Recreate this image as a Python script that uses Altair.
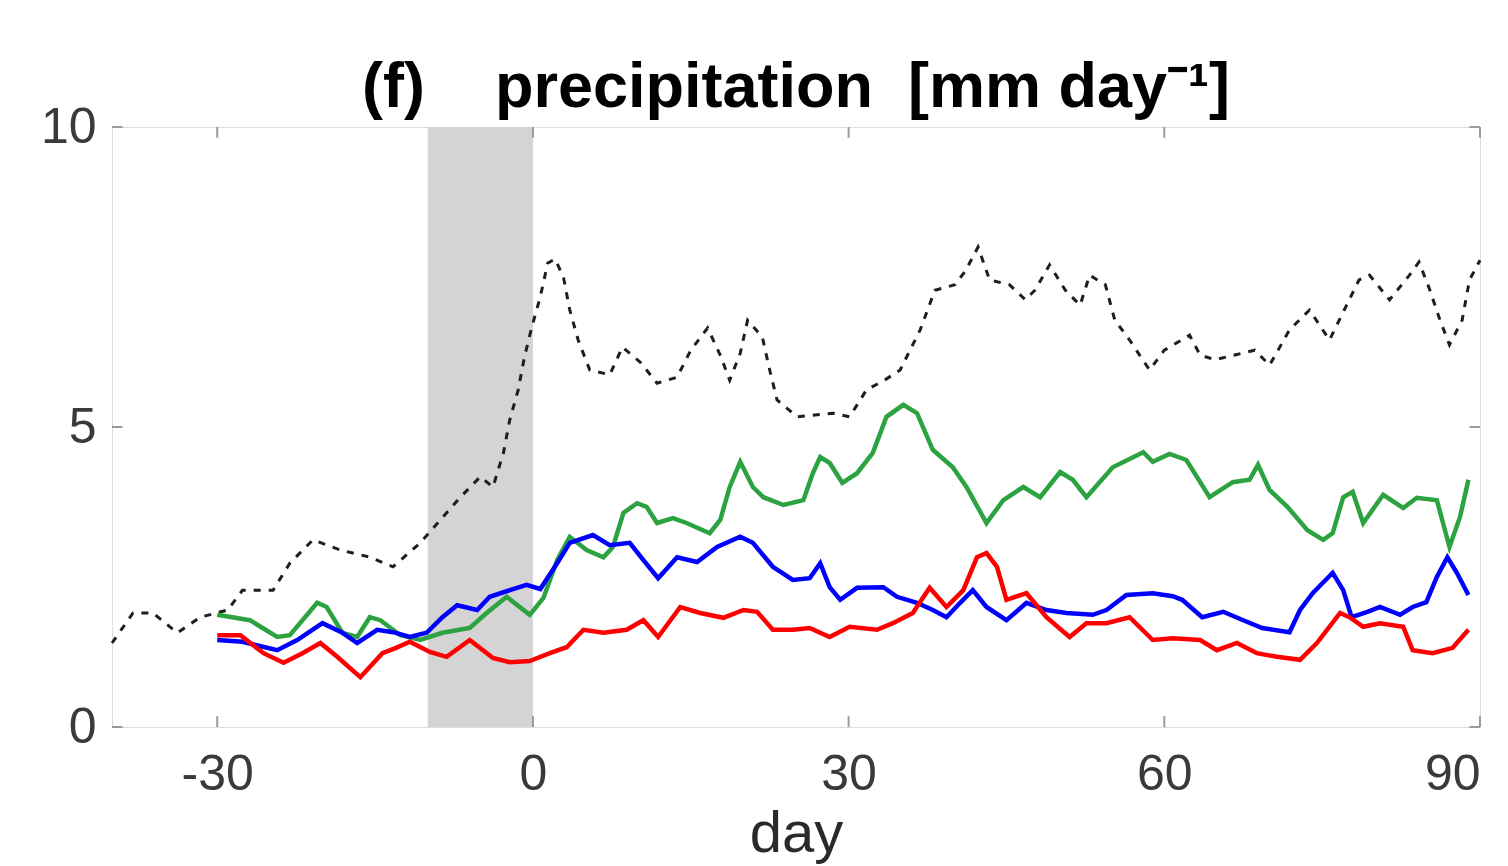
import altair as alt
import pandas as pd

# ---- data ----
black_day = [-40, -38.0, -36.1, -33.8, -31.6, -29.0, -27.6, -24.7, -23.1, -20.9, -18.3, -15.5, -13.3,
             -10.7, -8.8, -6.9, -5.0, -3.8, -2.8, -2.2, -1.4, -0.8, -0.1, 0.7, 1.4, 2.1, 2.9, 3.5, 4.3,
             5.4, 7.3, 8.5, 10.2, 11.8, 13.7, 15.0, 16.6, 17.8, 18.7, 19.7, 20.4, 21.8, 22.5, 23.2,
             25.1, 28.5, 30.1, 31.7, 33.4, 34.9, 36.8, 38.2, 40.1, 41.1, 42.3, 43.4, 45.3, 46.8, 47.7,
             49.1, 50.6, 52.0, 52.9, 54.4, 55.3, 56.7, 58.6, 60.0, 62.4, 63.4, 64.8, 66.7, 68.6, 70.0,
             71.9, 73.8, 75.7, 77.1, 78.5, 79.5, 81.4, 83.3, 84.2, 85.2, 86.2, 87.1, 88.3, 89.0, 90.0]
black_val = [1.40, 1.90, 1.90, 1.57, 1.83, 1.95, 2.28, 2.28, 2.73, 3.12, 2.95, 2.83, 2.67,
             3.07, 3.45, 3.83, 4.17, 4.00, 4.57, 5.12, 5.62, 6.17, 6.67, 7.17, 7.73, 7.80, 7.50, 6.95, 6.45,
             5.95, 5.87, 6.33, 6.08, 5.73, 5.83, 6.28, 6.65, 6.20, 5.78, 6.23, 6.78, 6.50, 5.95, 5.45,
             5.17, 5.23, 5.17, 5.62, 5.78, 5.95, 6.62, 7.28, 7.37, 7.60, 8.00, 7.45, 7.37, 7.12, 7.28,
             7.70, 7.28, 7.03, 7.53, 7.37, 6.78, 6.45, 5.95, 6.28, 6.53, 6.20, 6.12, 6.20, 6.28, 6.03,
             6.62, 6.95, 6.45, 6.95, 7.45, 7.53, 7.12, 7.53, 7.75, 7.30, 6.78, 6.37, 6.78, 7.45, 7.78]

green_day = [-30, -26.9, -24.3, -23.1, -20.5, -19.6, -18.1, -16.7, -15.5, -14.5, -12.6, -10.7, -8.6,
             -6.0, -4.4, -2.5, -0.3, 1.0, 2.3, 3.5, 5.1, 6.7, 7.6, 8.6, 9.9, 10.8, 11.8, 13.3, 14.6,
             16.8, 17.8, 18.7, 19.7, 20.9, 21.9, 23.8, 25.7, 26.6, 27.3, 28.2, 29.4, 30.8, 32.3, 33.6,
             35.2, 36.5, 38.0, 39.9, 41.2, 43.1, 44.7, 46.6, 48.2, 50.1, 51.3, 52.6, 55.1, 58.0, 58.9,
             60.5, 62.1, 64.3, 66.5, 68.1, 68.9, 70.0, 71.7, 73.6, 75.1, 76.0, 77.0, 77.9, 78.9, 80.8,
             82.7, 84.0, 85.9, 87.1, 88.1, 88.9]
green_val = [1.87, 1.78, 1.50, 1.53, 2.07, 2.00, 1.57, 1.50, 1.83, 1.78, 1.53, 1.45, 1.57,
             1.65, 1.90, 2.17, 1.87, 2.15, 2.78, 3.17, 2.95, 2.83, 3.00, 3.57, 3.73, 3.67, 3.40, 3.48, 3.40,
             3.23, 3.45, 4.00, 4.42, 4.00, 3.83, 3.70, 3.78, 4.23, 4.50, 4.40, 4.07, 4.23, 4.57, 5.17,
             5.37, 5.23, 4.62, 4.33, 4.00, 3.40, 3.78, 4.00, 3.83, 4.25, 4.12, 3.83, 4.33, 4.58, 4.42,
             4.55, 4.45, 3.83, 4.08, 4.12, 4.37, 3.95, 3.67, 3.28, 3.12, 3.23, 3.83, 3.92, 3.40, 3.87,
             3.65, 3.82, 3.78, 3.00, 3.50, 4.12]

blue_day = [-30, -27.6, -24.3, -22.4, -20.0, -18.1, -16.7, -14.8, -13.3, -11.7, -10.1, -8.6, -7.2,
            -5.3, -4.1, -2.2, -0.6, 0.7, 2.3, 3.5, 5.7, 7.3, 9.2, 10.5, 11.9, 13.7, 15.6, 17.5, 19.7,
            20.9, 22.8, 24.7, 26.3, 27.3, 28.2, 29.2, 30.8, 33.3, 34.6, 36.5, 38.0, 39.3, 40.6, 41.8,
            43.1, 45.0, 46.9, 48.8, 50.7, 53.2, 54.5, 56.4, 58.9, 60.8, 61.7, 63.6, 65.6, 67.5, 69.3,
            71.9, 72.9, 74.1, 76.0, 77.0, 77.8, 79.3, 80.5, 82.4, 83.6, 84.9, 85.9, 86.9, 87.8, 88.9]
blue_val = [1.45, 1.42, 1.28, 1.45, 1.73, 1.57, 1.40, 1.62, 1.58, 1.50, 1.57, 1.83, 2.03,
            1.95, 2.17, 2.28, 2.37, 2.30, 2.73, 3.07, 3.20, 3.03, 3.07, 2.78, 2.48, 2.83, 2.75, 3.00, 3.17,
            3.07, 2.67, 2.45, 2.48, 2.73, 2.33, 2.12, 2.32, 2.33, 2.17, 2.07, 1.95, 1.83, 2.07, 2.28,
            2.00, 1.78, 2.07, 1.95, 1.90, 1.87, 1.95, 2.20, 2.23, 2.18, 2.12, 1.83, 1.92, 1.78, 1.65,
            1.58, 1.95, 2.23, 2.57, 2.28, 1.83, 1.92, 2.00, 1.87, 2.00, 2.08, 2.50, 2.83, 2.57, 2.20]

red_day = [-30, -27.8, -25.6, -23.7, -21.9, -20.2, -18.6, -16.4, -14.3, -13.0, -11.7, -9.8, -8.2,
           -6.0, -3.8, -2.2, -0.3, 1.6, 3.2, 4.8, 6.7, 8.9, 10.5, 11.9, 14.0, 15.9, 18.1, 20.0, 21.3,
           22.8, 24.7, 26.3, 28.2, 30.1, 32.7, 34.2, 36.1, 37.7, 39.3, 40.9, 42.2, 43.1, 44.1, 45.0,
           46.9, 48.8, 51.0, 52.6, 54.5, 56.7, 58.9, 60.8, 63.4, 65.0, 66.9, 68.8, 70.7, 72.9, 74.5,
           76.7, 77.6, 78.9, 80.5, 82.7, 83.6, 85.5, 87.4, 88.9]
red_val = [1.53, 1.53, 1.23, 1.07, 1.23, 1.40, 1.17, 0.83, 1.23, 1.32, 1.42, 1.25, 1.17,
           1.45, 1.15, 1.08, 1.10, 1.23, 1.33, 1.62, 1.57, 1.62, 1.78, 1.50, 2.00, 1.90, 1.82, 1.95, 1.92,
           1.62, 1.62, 1.65, 1.50, 1.67, 1.62, 1.73, 1.90, 2.32, 2.00, 2.28, 2.83, 2.90, 2.67, 2.12,
           2.23, 1.83, 1.50, 1.73, 1.73, 1.83, 1.45, 1.48, 1.45, 1.28, 1.40, 1.23, 1.17, 1.12, 1.40,
           1.90, 1.83, 1.67, 1.73, 1.67, 1.28, 1.23, 1.32, 1.62]

x_ticks = [-30, 0, 30, 60, 90]
y_ticks = [0, 5, 10]
shade_start, shade_end = -10, 0
x_min, x_max = -40, 90
y_min, y_max = 0, 10

series_names = ["green", "blue", "red"]
series_colors = ["#2ca340", "#0000ff", "#ff0000"]

NB = "\u00a0"
title_text = "(f)" + NB * 4 + "precipitation" + NB * 2 + "[mm day\u207b\u00b9]"

# ---- build tables ----
rows = []
for name, dd, vv in [("green", green_day, green_val), ("blue", blue_day, blue_val), ("red", red_day, red_val)]:
    for i, (d, v) in enumerate(zip(dd, vv)):
        rows.append({"series": name, "day": d, "value": v, "order": i})
colored = pd.DataFrame(rows)
black = pd.DataFrame({"day": black_day, "value": black_val, "order": range(len(black_day))})

xs = alt.Scale(domain=[x_min, x_max], nice=False, zero=False)
ys = alt.Scale(domain=[y_min, y_max], nice=False, zero=False)

FONT = "Liberation Sans"
hyphen_label = "datum.value < 0 ? '-' + abs(datum.value) : '' + datum.value"

shade = alt.Chart(pd.DataFrame({"a": [shade_start], "b": [shade_end], "lo": [y_min], "hi": [y_max]})).mark_rect(
    color="#d4d4d4"
).encode(
    x=alt.X("a:Q", scale=xs, axis=alt.Axis(values=x_ticks, tickSize=0, domain=False, grid=False,
                                             labelExpr=hyphen_label,
                                             labelFontSize=50, labelColor="#3a3a3a", labelFont=FONT,
                                             labelPadding=22, title="day", titleFontSize=58,
                                             titleFont=FONT, titleColor="#2a2a2a", titleFontWeight="normal",
                                             titlePadding=6)),
    x2="b:Q",
    y=alt.Y("lo:Q", scale=ys, axis=alt.Axis(values=y_ticks, tickSize=0, domain=False, grid=False,
                                              labelExpr=hyphen_label,
                                              labelFontSize=50, labelColor="#3a3a3a", labelFont=FONT,
                                              labelPadding=16, title=None)),
    y2="hi:Q",
)

tick_df_x = pd.DataFrame({"t": x_ticks})
tick_df_y = pd.DataFrame({"t": y_ticks})
tick_color = "#9a9a9a"
xt_bottom = alt.Chart(tick_df_x).mark_rule(color=tick_color, strokeWidth=2).encode(
    x=alt.X("t:Q", scale=xs), y=alt.datum(y_min, scale=ys), y2=alt.datum(y_min + 0.18))
xt_top = alt.Chart(tick_df_x).mark_rule(color=tick_color, strokeWidth=2).encode(
    x=alt.X("t:Q", scale=xs), y=alt.datum(y_max, scale=ys), y2=alt.datum(y_max - 0.18))
yt_left = alt.Chart(tick_df_y).mark_rule(color=tick_color, strokeWidth=2).encode(
    y=alt.Y("t:Q", scale=ys), x=alt.datum(x_min, scale=xs), x2=alt.datum(x_min + 1.0))
yt_right = alt.Chart(tick_df_y).mark_rule(color=tick_color, strokeWidth=2).encode(
    y=alt.Y("t:Q", scale=ys), x=alt.datum(x_max, scale=xs), x2=alt.datum(x_max - 1.0))

black_line = alt.Chart(black).mark_line(color="#1e1e1e", strokeWidth=3, strokeDash=[7, 8]).encode(
    x=alt.X("day:Q", scale=xs), y=alt.Y("value:Q", scale=ys), order="order:Q")

color_lines = alt.Chart(colored).mark_line(strokeWidth=4.5).encode(
    x=alt.X("day:Q", scale=xs),
    y=alt.Y("value:Q", scale=ys),
    color=alt.Color("series:N", scale=alt.Scale(domain=series_names, range=series_colors), legend=None),
    detail="series:N",
    order="order:Q",
)

chart = alt.layer(shade, xt_bottom, xt_top, yt_left, yt_right, black_line, color_lines).properties(
    width=1368, height=600,
    autosize=alt.AutoSizeParams(type="none"),
    padding={"left": 104, "top": 119, "right": 20, "bottom": 145},
    title=alt.TitleParams(title_text, fontSize=63, fontWeight="bold",
                          font=FONT, color="#000000", anchor="middle", offset=-18),
).configure_view(stroke="#a8a8a8", strokeWidth=3).configure(background="white")

chart.save("out.html", embed_options={"renderer": "svg", "actions": False})
